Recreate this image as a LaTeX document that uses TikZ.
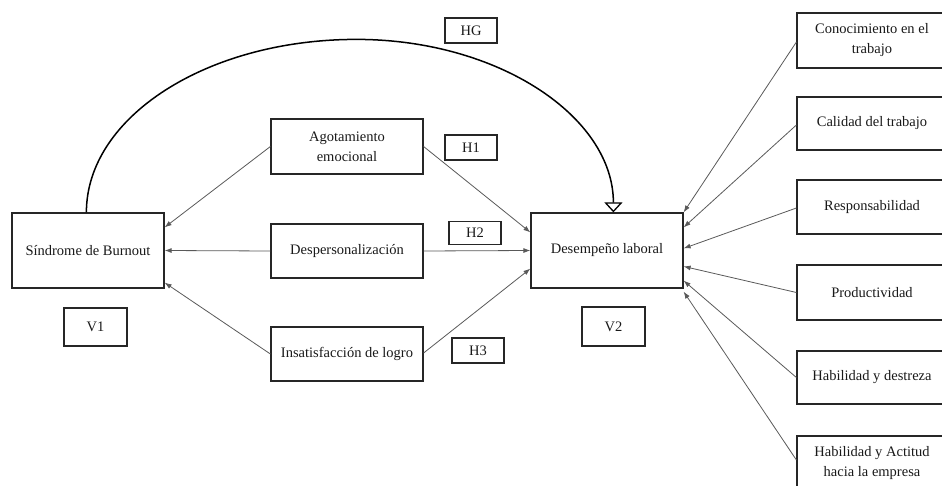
\documentclass[tikz,border=0pt]{standalone}
\usepackage{fontspec}
\setmainfont{Liberation Serif}
\usetikzlibrary{arrows.meta,calc}
\begin{document}
\begin{tikzpicture}[x=1pt,y=-1pt,
  box/.style={draw=black!85,line width=1.2pt,rectangle,inner sep=0pt,align=center,
    font=\fontsize{14.5}{20}\selectfont,text=black!90},
  lbl/.style={box,minimum width=52pt,minimum height=25pt},
  conn/.style={draw=black!65,line width=0.8pt,-{Latex[length=7pt,width=5pt]}},
  hgarc/.style={draw=black,line width=1.5pt,-{Triangle[open,length=10pt,width=18pt,line width=1.3pt]}}]
\useasboundingbox (0,0) rectangle (942,486);
\clip (0,0) rectangle (942,486);
% main nodes
\node[box,minimum width=152pt,minimum height=75pt] (burn) at (88,250.5) {Síndrome de Burnout};
\node[box,minimum width=63pt,minimum height=38pt] (v1) at (95.5,327) {V1};
\node[box,minimum width=152pt,minimum height=55pt] (ago) at (347,146.5) {Agotamiento\\emocional};
\node[box,minimum width=152pt,minimum height=54pt] (desp) at (347,251) {Despersonalización};
\node[box,minimum width=152pt,minimum height=54pt] (insat) at (347,354) {Insatisfacción de logro};
\node[lbl] (hg) at (471,30.5) {HG};
\node[lbl] (h1) at (471,147.5) {H1};
\node[lbl,minimum height=23pt] (h2) at (475,233) {H2};
\node[lbl] (h3) at (478,350.5) {H3};
\node[box,minimum width=152pt,minimum height=75pt] (des) at (607,250.5) {Desempeño laboral};
\node[box,minimum width=63pt,minimum height=39pt] (v2) at (613.5,326.5) {V2};
% right boxes
\node[box,minimum width=150pt,minimum height=55pt] (k1) at (872,40.5) {Conocimiento en el\\trabajo};
\node[box,minimum width=150pt,minimum height=53pt] (k2) at (872,123.5) {Calidad del trabajo};
\node[box,minimum width=150pt,minimum height=54pt] (k3) at (872,207) {Responsabilidad};
\node[box,minimum width=150pt,minimum height=55pt] (k4) at (872,292.5) {Productividad};
\node[box,minimum width=150pt,minimum height=53pt] (k5) at (872,377.5) {Habilidad y destreza};
\node[box,minimum width=150pt,minimum height=54pt] (k6) at (872,463) {Habilidad y Actitud\\hacia la empresa};
% connectors to burnout
\draw[conn] (ago.west) -- ($(burn.north east)+(0,15)$);
\draw[conn] (desp.west) -- (burn.east);
\draw[conn] (insat.west) -- ($(burn.south east)+(0,-6)$);
% connectors to desempeno
\draw[conn] (ago.east) -- ($(des.north west)+(0,20)$);
\draw[conn] (desp.east) -- (des.west);
\draw[conn] ($(insat.east)+(0,-1)$) -- ($(des.south west)+(0,-20)$);
% right connectors
\draw[conn] ($(k1.west)+(0,1.5)$) -- (des.north east);
\draw[conn] ($(k2.west)+(0,1.5)$) -- ($(des.north east)+(0,15)$);
\draw[conn] ($(k3.west)+(0,1)$) -- ($(des.north east)+(0,36)$);
\draw[conn] (k4.west) -- ($(des.north east)+(0,54)$);
\draw[conn] (k5.west) -- ($(des.south east)+(0,-8)$);
\draw[conn] ($(k6.west)+(0,-3)$) -- ($(des.south east)+(0,3)$);
% HG arc
\draw[hgarc] ($(burn.north west)+(75,0)$)
  arc[start angle=180,end angle=270,x radius=270,y radius=173]
  arc[start angle=270,end angle=360,x radius=257,y radius=173];
\end{tikzpicture}
\end{document}
